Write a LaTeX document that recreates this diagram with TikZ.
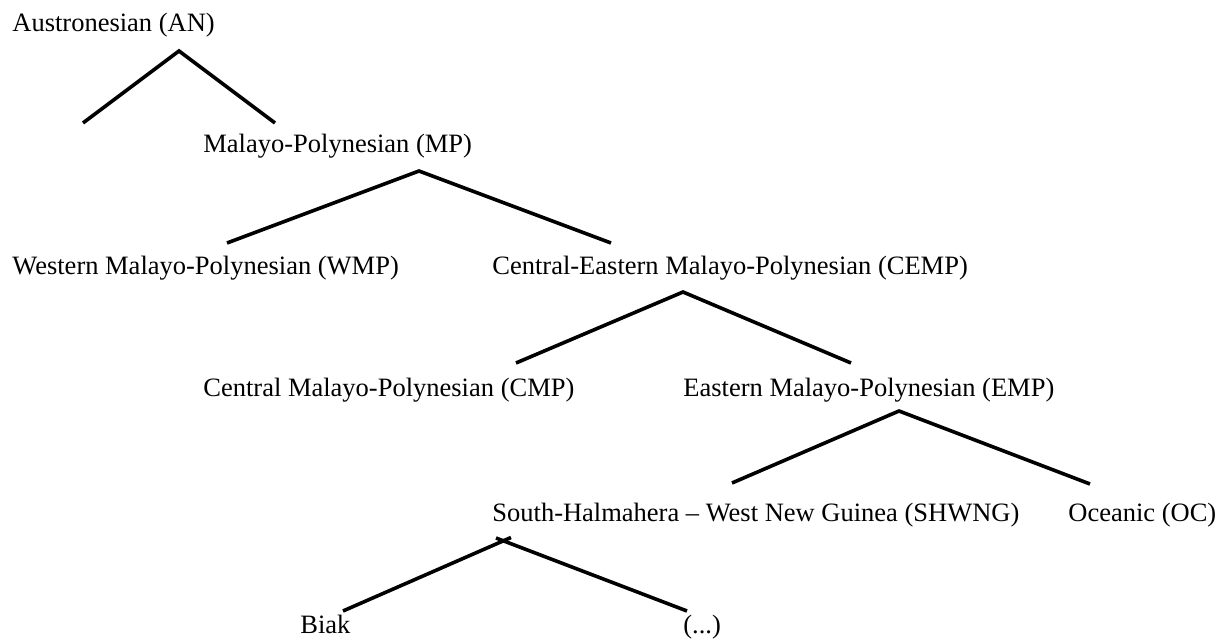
\documentclass[tikz,border=0pt]{standalone}
\usepackage{fontspec}
\setmainfont{Liberation Serif}
\usepackage{tikz}
\tikzstyle{lang} = [anchor=base west, inner sep=0pt, font=\fontsize{13.25pt}{16pt}\selectfont]
\tikzstyle{branch} = [line width=1.8pt, black]

\begin{document}
\begin{tikzpicture}[x=0.5pt, y=-0.5pt]

    % page frame
    \useasboundingbox (0, 0) rectangle (1227, 640);

    % language groups, one row per level
    \node (an) [lang] at (12, 32) {Austronesian (AN)};
    \node (mp) [lang] at (203, 153) {Malayo-Polynesian (MP)};
    \node (wmp) [lang] at (12, 275) {Western Malayo-Polynesian (WMP)};
    \node (cemp) [lang] at (492, 275) {Central-Eastern Malayo-Polynesian (CEMP)};
    \node (cmp) [lang] at (203, 397) {Central Malayo-Polynesian (CMP)};
    \node (emp) [lang] at (683, 397) {Eastern Malayo-Polynesian (EMP)};
    \node (shwng) [lang] at (492, 522) {South-Halmahera \textendash\ West New Guinea (SHWNG)};
    \node (oc) [lang] at (1068, 522) {Oceanic (OC)};
    \node (biak) [lang] at (300, 634) {Biak};
    \node (rest) [lang] at (683, 634) {(...)};

    % branch points
    \coordinate (an_top) at (179, 51);
    \coordinate (an_left) at (83, 123);
    \coordinate (an_right) at (275, 123);

    \coordinate (mp_top) at (419, 171);
    \coordinate (mp_left) at (227, 243);
    \coordinate (mp_right) at (611, 243);

    \coordinate (cemp_top) at (683, 292);
    \coordinate (cemp_left) at (516, 363);
    \coordinate (cemp_right) at (851, 363);

    \coordinate (emp_top) at (899, 411);
    \coordinate (emp_left) at (732, 483);
    \coordinate (emp_right) at (1090, 484);

    \coordinate (shwng_top_l) at (511, 537.5);
    \coordinate (shwng_top_r) at (496, 538);
    \coordinate (shwng_left) at (343, 611);
    \coordinate (shwng_right) at (687, 611);

    \draw [branch] (an_left) -- (an_top) -- (an_right);
    \draw [branch] (mp_left) -- (mp_top) -- (mp_right);
    \draw [branch] (cemp_left) -- (cemp_top) -- (cemp_right);
    \draw [branch] (emp_left) -- (emp_top) -- (emp_right);

    % the two lines overshoot a little at the top
    \draw [branch] (shwng_left) -- (shwng_top_l);
    \draw [branch] (shwng_top_r) -- (shwng_right);

\end{tikzpicture}
\end{document}
